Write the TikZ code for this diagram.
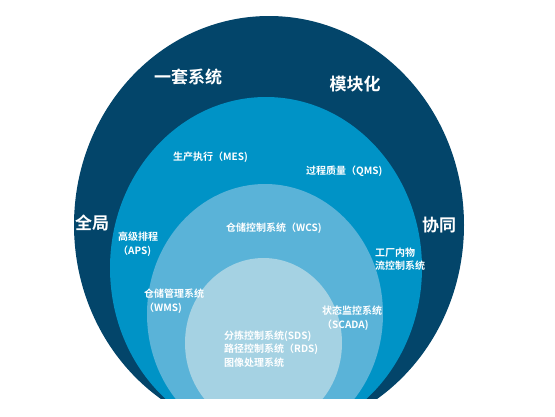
\documentclass[tikz,border=0pt]{standalone}
\usepackage{fontspec}
\newfontfamily\cjk{Noto Sans CJK SC}[BoldFont={Noto Sans CJK SC Bold}]
\definecolor{ringA}{HTML}{03456A}
\definecolor{ringB}{HTML}{0093C6}
\definecolor{ringC}{HTML}{5AB3D8}
\definecolor{ringD}{HTML}{A5D2E3}

\begin{document}
\begin{tikzpicture}[x=1pt,y=-1pt,
  big label/.style={text=white,inner sep=0pt,font=\cjk\bfseries\fontsize{17}{20}\selectfont},
  small label/.style={text=white,inner sep=0pt,anchor=west,align=left,font=\cjk\bfseries\fontsize{10}{13.5}\selectfont}]

  \fill[white] (0,0) rectangle (555,416);
  \useasboundingbox (0,0) rectangle (555,416);

  \begin{scope}
    \clip (0,0) rectangle (555,398);
    \fill[ringA] (269,225) ellipse [x radius=195pt, y radius=209pt];
    \fill[ringB] (266,268) ellipse [x radius=156pt, y radius=171pt];
    \fill[ringC] (265,314) ellipse [x radius=118pt, y radius=130pt];
    \fill[ringD] (263.5,343) ellipse [x radius=78.5pt, y radius=85pt];
  \end{scope}

  \node[big label] (one) at (188,77) {一套系统};
  \node[big label] (mod) at (355,84) {模块化};
  \node[big label] (glob) at (92,223) {全局};
  \node[big label] (coop) at (439,225) {协同};

  \node[small label] (mes) at (173,157) {生产执行（MES)};
  \node[small label] (qms) at (306,171) {过程质量（QMS)};
  \node[small label] (wcs) at (226,228) {仓储控制系统（WCS)};
  \node[small label] (aps) at (118,244) {高级排程\\（APS)};
  \node[small label] (flow) at (375,259) {工厂内物\\流控制系统};
  \node[small label] (wms) at (144,301) {仓储管理系统\\（WMS)};
  \node[small label] (scada) at (322,318) {状态监控系统\\（SCADA)};
  \node[small label] (sds) at (224,349) {分拣控制系统(SDS)\\路径控制系统（RDS)\\图像处理系统};
\end{tikzpicture}
\end{document}
